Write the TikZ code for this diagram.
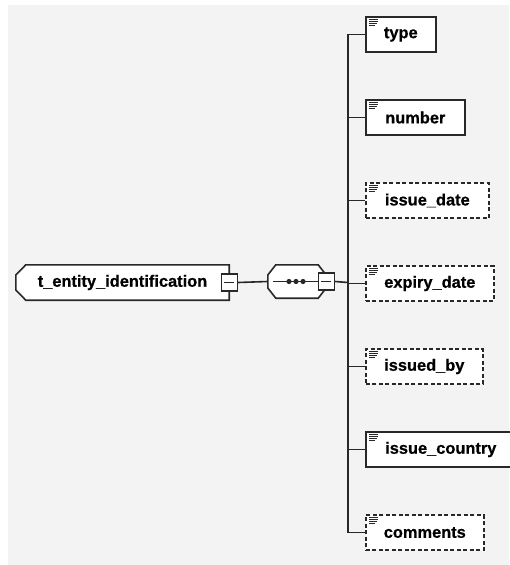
\documentclass[tikz,border=0pt]{standalone}
\usepackage{fontspec}
\setmainfont[BoldFeatures={FakeBold=0.6}]{Liberation Sans}
\usepackage{tikz}
\usetikzlibrary{backgrounds}

\definecolor{bggray}{RGB}{243,243,243}
\definecolor{linegray}{RGB}{40,40,40}
\newcommand{\elemfont}{\fontsize{16.4}{18}\selectfont\bfseries}

\tikzset{
  conn/.style={draw=linegray,line width=1.6pt},
  rootbox/.style={rectangle,minimum width=213pt,minimum height=35pt,
    inner sep=0pt,font=\elemfont},
  seqbox/.style={rectangle,minimum width=58pt,minimum height=33pt,inner sep=0pt},
  minusbox/.style={rectangle,conn,line width=1.4pt,fill=white,minimum width=16pt,
    minimum height=17pt,inner sep=0pt,
    path picture={\draw[linegray,line width=1.1pt]
      ([xshift=-5pt]path picture bounding box.center) --
      ([xshift=5pt]path picture bounding box.center);}},
  elem/.style={rectangle,conn,fill=white,anchor=west,minimum height=35pt,
    inner sep=0pt,font=\elemfont,
    path picture={\foreach \k/\len in {2.5/9,4.5/9,6.5/8,8.5/6}
      \draw[solid,linegray,line width=0.9pt]
        ([xshift=3pt,yshift=-\k pt]path picture bounding box.north west) -- ++(\len,0);}},
  optelem/.style={elem,dash pattern=on 4pt off 2.5pt}
}

\begin{document}
\begin{tikzpicture}[x=1pt,y=-1pt]
\useasboundingbox (0,0) rectangle (509,565);

% complex type and its sequence
\node[rootbox] (root) at (122.5,282.5) {t\_entity\_identification};
\node[seqbox] (seq) at (297,281.5) {};
\begin{scope}[on background layer]
\fill[white] (0,0) rectangle (509,565);
\fill[bggray] (8,5) rectangle (509,565);
\filldraw[conn,fill=white] ([xshift=10pt]root.north west) -- (root.north east)
  -- (root.south east) -- ([xshift=10pt]root.south west)
  -- ([yshift=-7.5pt]root.west) -- ([yshift=7.5pt]root.west) -- cycle;
\filldraw[conn,fill=white] ([xshift=8pt]seq.north west) -- ([xshift=-8pt]seq.north east)
  -- ([yshift=6.5pt]seq.east) -- ([yshift=-6.5pt]seq.east)
  -- ([xshift=-8pt]seq.south east) -- ([xshift=8pt]seq.south west)
  -- ([yshift=-6.5pt]seq.west) -- ([yshift=6.5pt]seq.west) -- cycle;
\end{scope}
\node[minusbox] (rootminus) at (root.east) {};
\draw[conn] (rootminus.east) -- (seq.west);
\node[minusbox] (seqminus) at (seq.east) {};
\draw[conn,line width=1.2pt] ([xshift=5pt]seq.west) -- (seqminus.west);
\foreach \dx in {-8,-1,6}
  \fill[linegray] ([xshift=\dx pt]seq.center) circle (2.6);
\coordinate (bar) at (348,282.5);
\draw[conn] (seqminus.east) -- (bar);

% child elements
\node[elem,minimum width=70pt] (type) at (365,34.5) {type};
\node[elem,minimum width=99pt] (number) at (365,117.5) {number};
\node[optelem,minimum width=123pt] (issuedate) at (365,200.5) {issue\_date};
\node[optelem,minimum width=128pt] (expirydate) at (365,283.5) {expiry\_date};
\node[optelem,minimum width=117pt] (issuedby) at (365,366.5) {issued\_by};
\node[elem,minimum width=150pt] (issuecountry) at (365,449.5) {issue\_country};
\node[optelem,minimum width=118pt] (comments) at (365,532.5) {comments};

\foreach \nm in {type,number,issuedate,expirydate,issuedby,issuecountry,comments}
  \draw[conn] (bar) |- (\nm.west);
\end{tikzpicture}
\end{document}
